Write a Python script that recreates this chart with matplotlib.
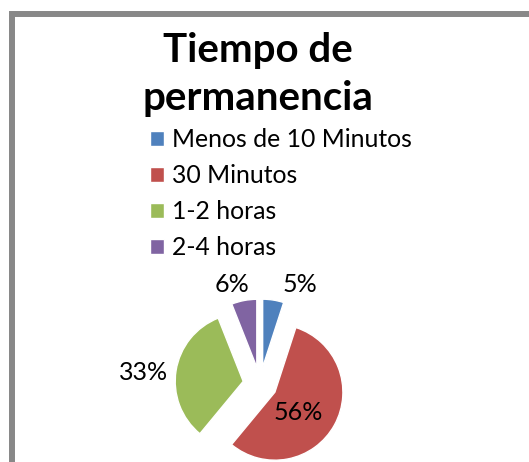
import matplotlib
matplotlib.use("Agg")
import matplotlib.pyplot as plt
from matplotlib.patches import Rectangle

# datos
categorias = ["Menos de 10 Minutos", "30 Minutos", "1-2 horas", "2-4 horas"]
valores = [5, 56, 33, 6]
etiquetas = ["5%", "56%", "33%", "6%"]
colores = ["#4F81BD", "#C0504D", "#9BBB59", "#8064A2"]

W, H = 529, 462
plt.rcParams['font.family'] = ['Lato', 'DejaVu Sans']
fig = plt.figure(figsize=(W / 100, H / 100), dpi=100)

# marco gris del gráfico (solo se ven arriba e izquierda)
fig.patches.append(Rectangle((12 / W, -0.2), 1.5, (H - 14) / H + 0.2,
                             transform=fig.transFigure, fill=False,
                             edgecolor="#888888", linewidth=4.3))

# título
fig.text(258 / W, 1 - 62 / H, "Tiempo de", ha="center", va="baseline",
         fontsize=29, fontweight="bold")
fig.text(258 / W, 1 - 110 / H, "permanencia", ha="center", va="baseline",
         fontsize=29, fontweight="bold")

# pastel: centro (260,384) px, radio 68 px
cx, cy, r = 260, 384, 68
ax = fig.add_axes([(cx - 2 * r) / W, (H - cy - 2 * r) / H, 4 * r / W, 4 * r / H])
wedges, textos, auto = ax.pie(valores, colors=colores, startangle=90,
                              counterclock=False, explode=[0.25] * 4,
                              autopct="%1.0f%%",
                              wedgeprops=dict(edgecolor="white", linewidth=1))
ax.set_xlim(-2, 2)
ax.set_ylim(-2, 2)
ax.set_aspect("equal")
ax.axis("off")

# posiciones de las etiquetas (px)
pos_px = [(300, 285), (298, 413), (144, 372), (232, 285)]
for t, txt, (px, py) in zip(auto, etiquetas, pos_px):
    t.set_text(txt)
    t.set_position(((px - cx) / r, (cy - py) / r))
    t.set_fontsize(18)
    t.set_ha("center")
    t.set_va("center")

# leyenda
fig.legend(wedges, categorias, loc="upper left",
           bbox_to_anchor=(150 / W, 1 - 128 / H), frameon=False,
           fontsize=17.8, handlelength=0.58, handleheight=0.58,
           handletextpad=0.3, labelspacing=0.53, borderpad=0, borderaxespad=0)

fig.savefig("out.png", dpi=100)
